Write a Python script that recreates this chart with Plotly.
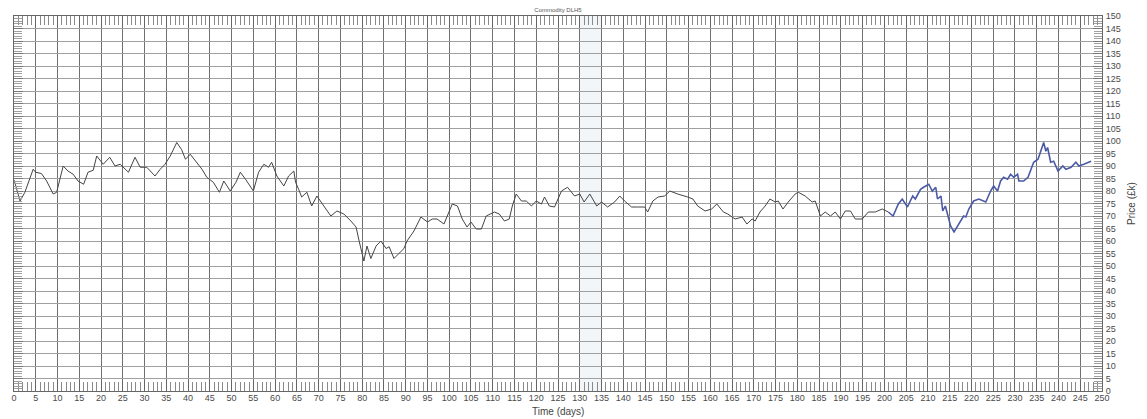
import plotly.graph_objects as go

# ---- data ----
days_black = [0, 0.7, 1.4, 2.5, 3.4, 4.4, 5, 6.3, 7.5, 8.3, 9, 9.8, 10.5, 11.3, 12.4, 13.6, 14.7, 16, 17, 18.2,
              19, 20.5, 22, 23.2, 24.4, 26.3, 27.8, 29, 30.5, 32.4, 33.6, 34.7, 35.9, 37.4, 38.5, 39.4, 40.5,
              41.7, 43.2, 44.3, 45.8, 47.2, 48.2, 49.7, 51, 52, 53.2, 55, 56.2, 57.4, 58.5, 59.2, 60.4, 62,
              63.1, 64.3, 64.7, 65.4, 66.1, 67.3, 68.4, 69.6, 71.2, 72.8, 74.2, 75.8, 77.4, 78.6, 79.3, 80.4,
              81.1, 82, 83.2, 84.3, 85.5, 86.2, 87.3, 88.5, 89.6, 90.3, 91.9, 93.5, 95, 96.1, 97.2, 98.8,
              100.7, 101.9, 103, 104.1, 105, 106.2, 107.4, 108.5, 110.4, 111.5, 112.7, 113.8, 114.5, 115.4,
              116.6, 117.7, 118.9, 120, 121.2, 121.9, 123, 124.2, 125.8, 127.2, 128.8, 130, 131, 132.3,
              133.9, 135, 136.4, 138, 139.2, 140.3, 141.9, 143.3, 144.9, 145.6, 146.8, 148, 149.5, 150.7,
              152.5, 154.8, 156, 157.1, 158.8, 160.3, 161.5, 163, 164, 165.7, 167.3, 168.4, 169.6, 170.3,
              171.4, 172.6, 173.7, 174.9, 175.6, 176.7, 177.9, 179.5, 180.2, 181.8, 183.4, 184.1, 185.3,
              186.4, 187.6, 188.7, 189.9, 191, 192.2, 193.3, 194.9, 196.3, 197.9, 199.5, 200.9]
price_black = [84.5, 80, 76, 79.5, 84, 88.7, 87.5, 87, 84, 81, 78.8, 79.5, 85, 90, 88, 86.7, 84, 82.7, 87.5, 88.3,
               94, 90.7, 93.5, 90, 90.7, 87.5, 93.5, 89.5, 89.5, 86, 88.7, 90.7, 94, 99.4, 96.6, 92.7, 94.7,
               91.9, 88.7, 85.5, 83.5, 79.5, 84, 80, 83.5, 87.5, 84.7, 80, 87.5, 90.7, 89.5, 91.5, 86, 82,
               86, 88, 83.5, 80.7, 77.6, 79.5, 74, 78, 74, 70, 72, 70.8, 68, 65.6, 60, 52,
               58, 53, 58, 60, 57, 57.7, 53, 55, 57, 60, 64, 69.6, 67.6, 68.8, 68.8, 66.8,
               74.8, 74, 68.8, 65.6, 67.6, 64.8, 64.8, 70, 71.6, 70.8, 68, 68.8, 74, 78.8,
               76, 76, 74, 76, 74.8, 77.6, 74, 73.6, 80, 81.5, 78, 78.8, 75.6, 78.8,
               74, 75.6, 73.6, 75.6, 78, 76, 73.6, 73.6, 73.6, 71.6, 76, 77.6, 78, 80,
               78.8, 77.6, 76.8, 74, 72, 72.8, 74.8, 71.6, 70.8, 68.8, 69.6, 66.8, 68.8, 68,
               71.6, 74, 76.8, 75.6, 76, 72.8, 75.6, 78.8, 79.5, 78, 75.6, 76, 70,
               71.6, 70, 71.6, 68.8, 72, 72, 68.8, 68.8, 71.6, 71.6, 72.8, 71.6]

days_blue = [200.9, 202, 203.2, 204.1, 205.3, 206.5, 207.1, 208.3, 209, 210.2, 211, 211.8, 212.2, 213, 213.4,
             214, 214.8, 215.2, 216, 216.8, 217.5, 218.2, 218.7, 219.4, 220.5, 221.7, 223.3, 224.4, 225.1,
             226, 226.7, 227.4, 228.3, 229, 229.7, 230.6, 230.9, 232, 233, 233.6, 234.3, 235.3, 236, 236.6,
             237.1, 237.5, 238.2, 238.9, 239.9, 241, 241.7, 242.9, 244, 244.7, 245.8, 247.5]
price_blue = [71.6, 70, 74.8, 76.8, 73.6, 78, 76.8, 80.7, 81.5, 82.7, 80, 81.5, 76.8, 78, 72,
              74, 68.8, 66, 63.6, 66, 67.6, 70, 69.6, 72.8, 76, 76.8, 75.6, 80, 82,
              80, 84, 85.5, 84.7, 86.7, 85.5, 86.7, 84, 84, 85.5, 88.7, 91.5, 92.7, 96.7, 99.4,
              95.9, 97.4, 91.5, 91.9, 88, 90, 88.7, 89.5, 91.5, 90, 90.7, 91.9]

x_ticks = list(range(0, 251, 5))
y_ticks = list(range(0, 151, 5))

FONT = "Liberation Sans, Arial, sans-serif"
LABEL = "#4a4a4a"

fig = go.Figure()
fig.add_trace(go.Scatter(x=days_black, y=price_black, mode="lines",
                         line=dict(color="#444444", width=1), xaxis="x", yaxis="y",
                         showlegend=False, hoverinfo="skip"))
fig.add_trace(go.Scatter(x=days_blue, y=price_blue, mode="lines",
                         line=dict(color="#4b5aa6", width=1.6), xaxis="x2", yaxis="y2",
                         showlegend=False, hoverinfo="skip"))

# faint scan band
fig.add_vrect(x0=130, x1=135, fillcolor="rgba(195,212,228,0.22)", line_width=0, layer="below")

common_x = dict(range=[0, 250], tickvals=x_ticks, showline=True, linecolor="#666", linewidth=1,
                ticks="inside", ticklen=11, tickcolor="#666", tickwidth=1, zeroline=False,
                fixedrange=True)
common_y = dict(range=[0, 150], tickvals=y_ticks, showline=True, linecolor="#666", linewidth=1,
                ticks="inside", ticklen=9, tickcolor="#777", tickwidth=1, zeroline=False,
                fixedrange=True)

# the page body adds an 8px offset; the figure is sized to fill the rest of the window
fig.update_layout(
    width=1139, height=411,
    margin=dict(l=3, r=45, t=5, b=28),
    paper_bgcolor="#ffffff", plot_bgcolor="#ffffff",
    font=dict(family=FONT, color=LABEL),
    title=dict(text="Commodity DLH5", xref="paper", x=0.5, xanchor="center",
               yref="container", y=1.0, yanchor="top", pad=dict(t=0, b=0),
               font=dict(size=6, color="#555555", family=FONT)),
    xaxis=dict(**common_x, side="bottom", showgrid=True, gridcolor="#707070", gridwidth=1,
               tickfont=dict(size=9, color=LABEL), ticklabelstandoff=-2,
               ticklabeloverflow="allow",
               minor=dict(dtick=1, ticks="inside", ticklen=9, tickcolor="#8a8a8a", showgrid=False)),
    xaxis2=dict(**common_x, side="top", overlaying="x", anchor="y", showgrid=False,
                showticklabels=False,
                minor=dict(dtick=1, ticks="inside", ticklen=9, tickcolor="#8a8a8a", showgrid=False)),
    yaxis=dict(**common_y, side="right", showgrid=True, gridcolor="#a0a0a0", gridwidth=1,
               tickfont=dict(size=9, color=LABEL), ticklabelstandoff=1,
               ticklabeloverflow="allow",
               minor=dict(dtick=1, ticks="inside", ticklen=8, tickcolor="#a0a0a0", showgrid=False),
               title=dict(text="Price (£k)", font=dict(size=10, color="#444"), standoff=8)),
    yaxis2=dict(**common_y, side="left", overlaying="y", anchor="x", showgrid=False,
                showticklabels=False,
                minor=dict(dtick=1, ticks="inside", ticklen=8, tickcolor="#a0a0a0", showgrid=False)),
    annotations=[dict(text="Time (days)", xref="paper", yref="paper", x=0.5, y=-0.055,
                      xanchor="center", yanchor="middle", showarrow=False,
                      font=dict(size=10, color="#444", family=FONT))],
)

fig.write_html("out.html")
